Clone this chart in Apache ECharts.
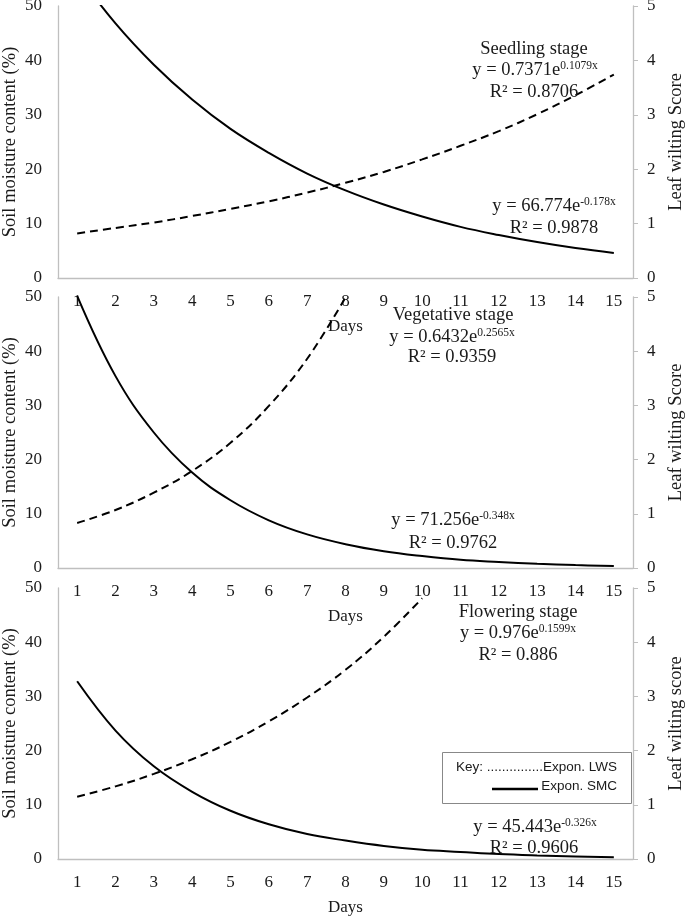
<!DOCTYPE html>
<html>
<head>
<meta charset="utf-8">
<script src="https://cdn.jsdelivr.net/npm/echarts@6/dist/echarts.min.js"></script>
<style>
html,body{margin:0;padding:0;background:#fff;}
#chart{width:685px;height:918px;}
</style>
</head>
<body>
<div id="chart"></div>
<script>
// ---- data ----
const days = ['1','2','3','4','5','6','7','8','9','10','11','12','13','14','15'];
const seedlingSMC   = [55.9, 46.8, 39.2, 32.8, 27.4, 23.0, 19.2, 16.1, 13.5, 11.3, 9.4, 7.9, 6.6, 5.5, 4.6];
const seedlingLWS   = [0.82, 0.92, 1.02, 1.14, 1.27, 1.41, 1.57, 1.75, 1.95, 2.18, 2.43, 2.70, 3.01, 3.36, 3.74];
const vegetativeSMC = [50.2, 35.4, 25.0, 17.6, 12.5, 8.8, 6.2, 4.4, 3.1, 2.2, 1.5, 1.1, 0.77, 0.54, 0.38];
const vegetativeLWS = [0.83, 1.07, 1.39, 1.79, 2.31, 2.99, 3.86, 4.99];
const floweringSMC  = [32.8, 23.7, 17.1, 12.4, 8.9, 6.4, 4.6, 3.4, 2.4, 1.7, 1.3, 0.91, 0.66, 0.48, 0.34];
const floweringLWS  = [1.15, 1.34, 1.57, 1.84, 2.16, 2.54, 2.98, 3.49, 4.10, 4.81];
const leftName = 'Soil moisture content (%)';
const rightNames = ['Leaf wilting Score', 'Leaf wilting Score', 'Leaf wilting score'];
const xName = 'Days';

const SERIF = '"Liberation Serif", "Times New Roman", serif';
const AXIS_GRAY = '#bfbfbf';
const TXT = '#1a1a1a';

const grids = [
  {left: 58, right: 52, top: 6, height: 272, outerBoundsMode:'none', containLabel:false},
  {left: 58, right: 52, top: 297, height: 271, outerBoundsMode:'none', containLabel:false},
  {left: 58, right: 52, top: 588, height: 271, outerBoundsMode:'none', containLabel:false}
];

function xAxis(i){
  return {
    type:'category', gridIndex:i, data:days, boundaryGap:true,
    name:xName, nameLocation:'middle', nameGap:40, nameMoveOverlap:false,
    nameTextStyle:{fontFamily:SERIF, fontSize:17, color:TXT},
    axisLine:{lineStyle:{color:AXIS_GRAY, width:1.3}},
    axisTick:{show:false},
    axisLabel:{fontFamily:SERIF, fontSize:17, color:TXT, margin:15, interval:0},
    splitLine:{show:false}
  };
}
function leftAxis(i){
  return {
    type:'value', gridIndex:i, position:'left', min:0, max:50, interval:10,
    name:leftName, nameLocation:'middle', nameGap:38, nameRotate:90, nameMoveOverlap:false,
    nameTextStyle:{fontFamily:SERIF, fontSize:18.5, color:TXT},
    axisLine:{show:true, lineStyle:{color:AXIS_GRAY, width:1.3}},
    axisTick:{show:false},
    axisLabel:{fontFamily:SERIF, fontSize:17, color:TXT, margin:16},
    splitLine:{show:false}
  };
}
function rightAxis(i){
  return {
    type:'value', gridIndex:i, position:'right', min:0, max:5, interval:1,
    name:rightNames[i], nameLocation:'middle', nameGap:34, nameRotate:90,
    nameTextStyle:{fontFamily:SERIF, fontSize:18.5, color:TXT},
    axisLine:{show:true, lineStyle:{color:AXIS_GRAY, width:1.3}},
    axisTick:{show:true, inside:false, length:5, lineStyle:{color:AXIS_GRAY}},
    axisLabel:{fontFamily:SERIF, fontSize:17, color:TXT, margin:14},
    splitLine:{show:false}
  };
}

function solid(i, data){
  return {type:'line', xAxisIndex:i, yAxisIndex:2*i, data:data, smooth:0.4, symbol:'none', clip:true,
    lineStyle:{color:'#000', width:2}};
}
function dashed(i, data){
  return {type:'line', xAxisIndex:i, yAxisIndex:2*i+1, data:data, smooth:0.4, symbol:'none', clip:true,
    lineStyle:{color:'#000', width:2, type:[8,5]}};
}

const rich = {
  n:{fontFamily:SERIF, fontSize:18.5, fill:TXT, color:TXT},
  s:{fontFamily:SERIF, fontSize:11.5, fill:TXT, color:TXT, padding:[0,0,9,0]}
};
function label(x, y, text){
  return {type:'text', x:x, y:y, z:100, style:{text:text, rich:rich, font:'18.5px '+SERIF, fill:TXT, align:'center', verticalAlign:'middle'}};
}

const graphics = [
  label(534, 49, '{n|Seedling stage}'),
  label(535, 70, '{n|y = 0.7371e}{s|0.1079x}'),
  label(534, 92, '{n|R² = 0.8706}'),
  label(554, 206, '{n|y = 66.774e}{s|-0.178x}'),
  label(554, 228, '{n|R² = 0.9878}'),

  label(453, 315, '{n|Vegetative stage}'),
  label(452, 337, '{n|y = 0.6432e}{s|0.2565x}'),
  label(452, 357, '{n|R² = 0.9359}'),
  label(453, 520, '{n|y = 71.256e}{s|-0.348x}'),
  label(453, 543, '{n|R² = 0.9762}'),

  label(518, 612, '{n|Flowering stage}'),
  label(518, 633, '{n|y = 0.976e}{s|0.1599x}'),
  label(518, 655, '{n|R² = 0.886}'),
  label(535, 827, '{n|y = 45.443e}{s|-0.326x}'),
  label(534, 848, '{n|R² = 0.9606}'),

  {type:'rect', z:90, shape:{x:442.5, y:752.5, width:189, height:51},
    style:{fill:'#fff', stroke:'#888', lineWidth:1}},
  {type:'text', z:100, x:617, y:767, style:{text:'Key: ...............Expon. LWS', font:'13.5px "Liberation Sans", "Noto Sans", sans-serif', fill:TXT, align:'right', verticalAlign:'middle'}},
  {type:'line', z:100, shape:{x1:492, y1:789, x2:538, y2:789}, style:{stroke:'#000', lineWidth:2.5}},
  {type:'text', z:100, x:617, y:786, style:{text:'Expon. SMC', font:'13.5px "Liberation Sans", "Noto Sans", sans-serif', fill:TXT, align:'right', verticalAlign:'middle'}}
];

const option = {
  animation:false,
  backgroundColor:'#fff',
  grid: grids,
  xAxis: [xAxis(0), xAxis(1), xAxis(2)],
  yAxis: [leftAxis(0), rightAxis(0), leftAxis(1), rightAxis(1), leftAxis(2), rightAxis(2)],
  series: [
    solid(0, seedlingSMC), dashed(0, seedlingLWS),
    solid(1, vegetativeSMC), dashed(1, vegetativeLWS),
    solid(2, floweringSMC), dashed(2, floweringLWS)
  ],
  graphic: graphics
};

const chart = echarts.init(document.getElementById('chart'), null, {renderer:'canvas'});
chart.setOption(option);
</script>
</body>
</html>
